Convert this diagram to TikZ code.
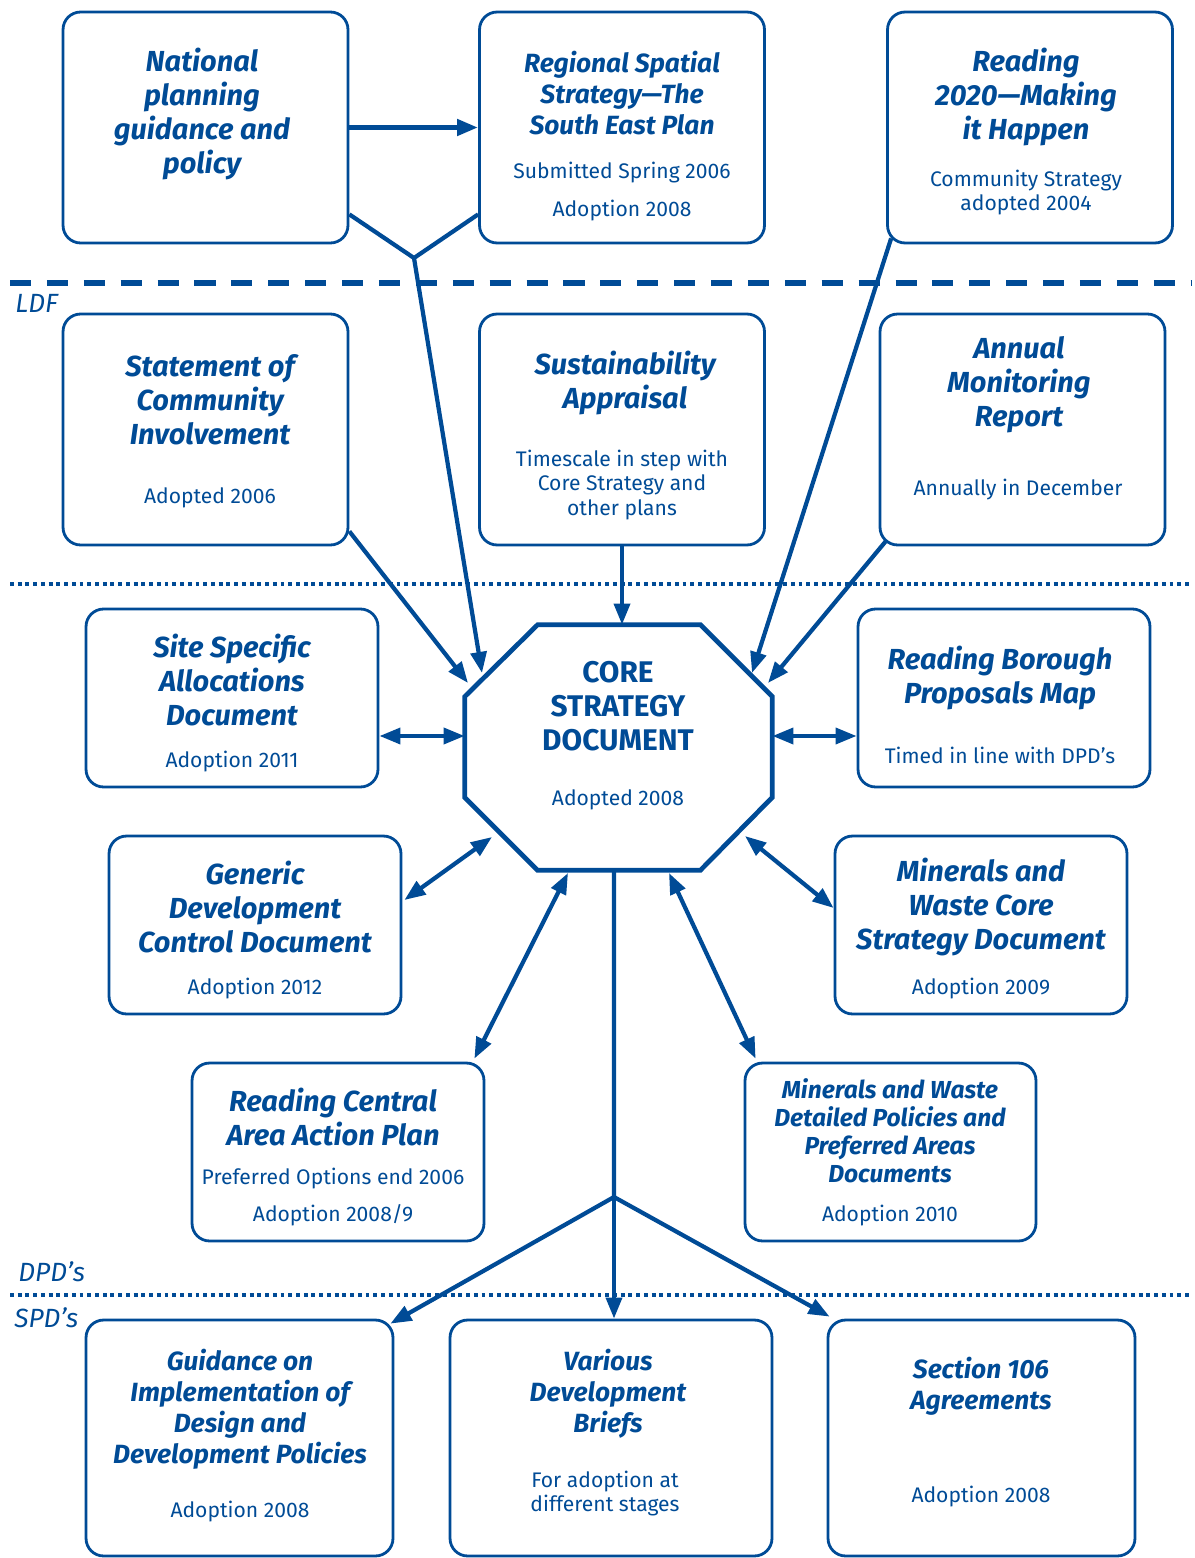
\documentclass[tikz,border=0pt]{standalone}
\usepackage{fontspec}
\setmainfont{Fira Sans}
\usetikzlibrary{arrows.meta,calc,positioning}
\definecolor{ldfblue}{RGB}{0,75,150}
\tikzset{
    docbox/.style={
    rectangle,rounded corners=10pt,draw=ldfblue,line width=1.6pt,inner sep=0pt
    },
    topbox/.style={
    docbox,minimum width=5.7cm,minimum height=4.62cm
    },
    midbox/.style={
    docbox,minimum width=5.84cm,minimum height=3.56cm
    },
    lowbox/.style={
    docbox,minimum width=6.14cm,minimum height=4.72cm
    },
    doctitle/.style={
    text=ldfblue,align=center,inner sep=0pt,font=\fontsize{16.5}{19.4}\selectfont\bfseries\itshape
    },
    smalltitle/.style={
    doctitle,font=\fontsize{15}{17.6}\selectfont\bfseries\itshape
    },
    docnote/.style={
    text=ldfblue,align=center,inner sep=0pt,font=\fontsize{12}{14.2}\selectfont
    },
    bandlabel/.style={
    text=ldfblue,anchor=west,inner sep=0pt,font=\fontsize{15}{17}\selectfont\itshape
    },
    link/.style={
    draw=ldfblue,line width=2.4pt,-{Triangle[length=12pt,width=9pt]}
    },
    both/.style={
    draw=ldfblue,line width=2.4pt,{Triangle[length=12pt,width=9pt]}-{Triangle[length=12pt,width=9pt]}
    },
    wire/.style={
    draw=ldfblue,line width=2.4pt
    },
}
\begin{document}
\begin{tikzpicture}[x=0.02cm,y=-0.02cm]
   \useasboundingbox (0,0) rectangle (1194,1558);
   %bands
   \draw[ldfblue,line width=3.4pt,dash pattern=on 12pt off 9pt] (10,283) -- (1192,283);
   \draw[ldfblue,line width=2.6pt,dash pattern=on 2.2pt off 2.2pt] (10,584) -- (1192,584);
   \draw[ldfblue,line width=2.6pt,dash pattern=on 2.2pt off 2.2pt] (10,1295) -- (1192,1295);
   \node[bandlabel] (ldf) at (15,303) {LDF};
   \node[bandlabel] (dpd) at (18,1272) {DPD’s};
   \node[bandlabel] (spd) at (14,1318) {SPD’s};
   %national
   \node[topbox] (national) at (205.5,127.5) {};
   \node[doctitle] (national-t) at (202,114) {National\\planning\\guidance and\\policy};
   %regional
   \node[topbox] (regional) at (622,127.5) {};
   \node[smalltitle] (regional-t) at (622,93) {Regional Spatial\\Strategy—The\\South East Plan};
   \node[docnote] (regional-n) at (622,191.5) {Submitted Spring 2006\\[7pt]Adoption 2008};
   %reading 2020
   \node[topbox] (reading) at (1030,127.5) {};
   \node[doctitle] (reading-t) at (1026,97) {Reading\\2020—Making\\it Happen};
   \node[docnote] (reading-n) at (1026,192.5) {Community Strategy\\adopted 2004};
   %sci
   \node[topbox] (sci) at (205.5,429.5) {};
   \node[doctitle] (sci-t) at (210,400) {Statement of\\Community\\Involvement};
   \node[docnote] (sci-n) at (210,498) {Adopted 2006};
   %sa
   \node[topbox] (sa) at (622,429.5) {};
   \node[doctitle] (sa-t) at (625,383) {Sustainability\\Appraisal};
   \node[docnote] (sa-n) at (622,485) {Timescale in step with\\Core Strategy and\\other plans};
   %amr
   \node[topbox] (amr) at (1022.5,429.5) {};
   \node[doctitle] (amr-t) at (1019,385) {Annual\\Monitoring\\Report};
   \node[docnote] (amr-n) at (1018,490) {Annually in December};
   %core
   \node[minimum width=6.14cm,minimum height=4.9cm,inner sep=0pt] (core) at (618.5,747.5) {};
   \draw[ldfblue,line width=2.7pt,line join=miter]
     ($(core.north west)+(73,0)$) -- ($(core.north east)+(-72,0)$)
     -- ($(core.north east)+(0,72)$) -- ($(core.south east)+(0,-73)$)
     -- ($(core.south east)+(-72,0)$) -- ($(core.south west)+(73,0)$)
     -- ($(core.south west)+(0,-73)$) -- ($(core.north west)+(0,72)$) -- cycle;
   \node[text=ldfblue,align=center,inner sep=0pt,font=\fontsize{17}{19.4}\selectfont\bfseries] (core-t) at (618,706) {CORE\\STRATEGY\\DOCUMENT};
   \node[docnote] (core-n) at (618,800) {Adopted 2008};
   %site specific
   \node[midbox] (site) at (232,698) {};
   \node[doctitle] (site-t) at (232,680) {Site Specific\\Allocations\\Document};
   \node[docnote] (site-n) at (232,762) {Adoption 2011};
   %proposals map
   \node[midbox] (rbpm) at (1004,698) {};
   \node[doctitle] (rbpm-t) at (1000,678) {Reading Borough\\Proposals Map};
   \node[docnote] (rbpm-n) at (1000,755) {Timed in line with DPD’s};
   %generic
   \node[midbox] (generic) at (255,925) {};
   \node[doctitle] (generic-t) at (255,907) {Generic\\Development\\Control Document};
   \node[docnote] (generic-n) at (255,989) {Adoption 2012};
   %minerals core
   \node[midbox] (mwcs) at (981,925) {};
   \node[doctitle] (mwcs-t) at (981,907) {Minerals and\\Waste Core\\Strategy Document};
   \node[docnote] (mwcs-n) at (981,989) {Adoption 2009};
   %rcaap
   \node[midbox] (rcaap) at (338,1152) {};
   \node[doctitle] (rcaap-t) at (333,1117) {Reading Central\\Area Action Plan};
   \node[docnote] (rcaap-n) at (333,1197) {Preferred Options end 2006\\[7.4pt]Adoption 2008/9};
   %minerals detailed
   \node[midbox,minimum width=5.82cm] (mwdp) at (890.5,1152) {};
   \node[doctitle,font=\fontsize{14}{16}\selectfont\bfseries\itshape] (mwdp-t) at (890,1131) {Minerals and Waste\\Detailed Policies and\\Preferred Areas\\Documents};
   \node[docnote] (mwdp-n) at (890,1216) {Adoption 2010};
   %guidance
   \node[lowbox] (guidance) at (239.5,1438) {};
   \node[smalltitle] (guidance-t) at (240,1409.5) {Guidance on\\Implementation of\\Design and\\Development Policies};
   \node[docnote] (guidance-n) at (240,1512) {Adoption 2008};
   %briefs
   \node[lowbox,minimum width=6.44cm] (various) at (611,1438) {};
   \node[smalltitle] (various-t) at (608,1394) {Various\\Development\\Briefs};
   \node[docnote] (various-n) at (605,1493.5) {For adoption at\\different stages};
   %s106
   \node[lowbox] (s106) at (981.5,1438) {};
   \node[smalltitle] (s106-t) at (981,1386) {Section 106\\Agreements};
   \node[docnote] (s106-n) at (981,1497) {Adoption 2008};

   %joins and tips on the octagon
   \coordinate (ldfjoin) at (414,258);
   \coordinate (spdjoin) at (614,1197);
   \coordinate (core-nat) at (482,673);
   \coordinate (core-sci) at (468,683);
   \coordinate (core-rdg) at (752,673);
   \coordinate (core-amr) at (768,683);
   \coordinate (core-gen) at (492,837);
   \coordinate (core-mwc) at (745,836);
   \coordinate (core-rca) at (568,873);
   \coordinate (core-mwd) at (669,873);

   \path
   %top row
    (national.east) edge[link,line width=2.9pt] (regional.west)
    ([yshift=0.6cm]national.south east) edge[wire] (ldfjoin)
    ([yshift=0.6cm]regional.south west) edge[wire] (ldfjoin)
    (ldfjoin) edge[link] (core-nat)
    ([xshift=0.1cm,yshift=0.12cm]reading.south west) edge[link] (core-rdg)
   %ldf row
    ([yshift=0.3cm]sci.south east) edge[link] (core-sci)
    (sa.south) edge[link] (sa.south |- core.north)
    ([xshift=0.14cm,yshift=0.1cm]amr.south west) edge[link] (core-amr)
   %dpd's
    ([yshift=-0.76cm]site.east) edge[both] ([yshift=-0.76cm]site.east -| core.west)
    ([yshift=-0.76cm]rbpm.west) edge[both] ([yshift=-0.76cm]rbpm.west -| core.east)
    ([xshift=0.04cm,yshift=0.5cm]generic.east) edge[both] (core-gen)
    ([yshift=0.34cm]mwcs.west) edge[both] (core-mwc)
    ([xshift=-0.22cm,yshift=0.06cm]rcaap.north east) edge[both] (core-rca)
    ([xshift=0.24cm,yshift=0.06cm]mwdp.north west) edge[both] (core-mwd)
   %spd's
    ([xshift=-0.09cm]core.south) edge[wire] (spdjoin)
    (spdjoin) edge[link] ([xshift=-0.08cm,yshift=-0.1cm]guidance.north east)
    (spdjoin) edge[link] (spdjoin |- various.north)
    (spdjoin) edge[link] ([xshift=0.06cm,yshift=0.04cm]s106.north west)
   ;
\end{tikzpicture}
\end{document}
